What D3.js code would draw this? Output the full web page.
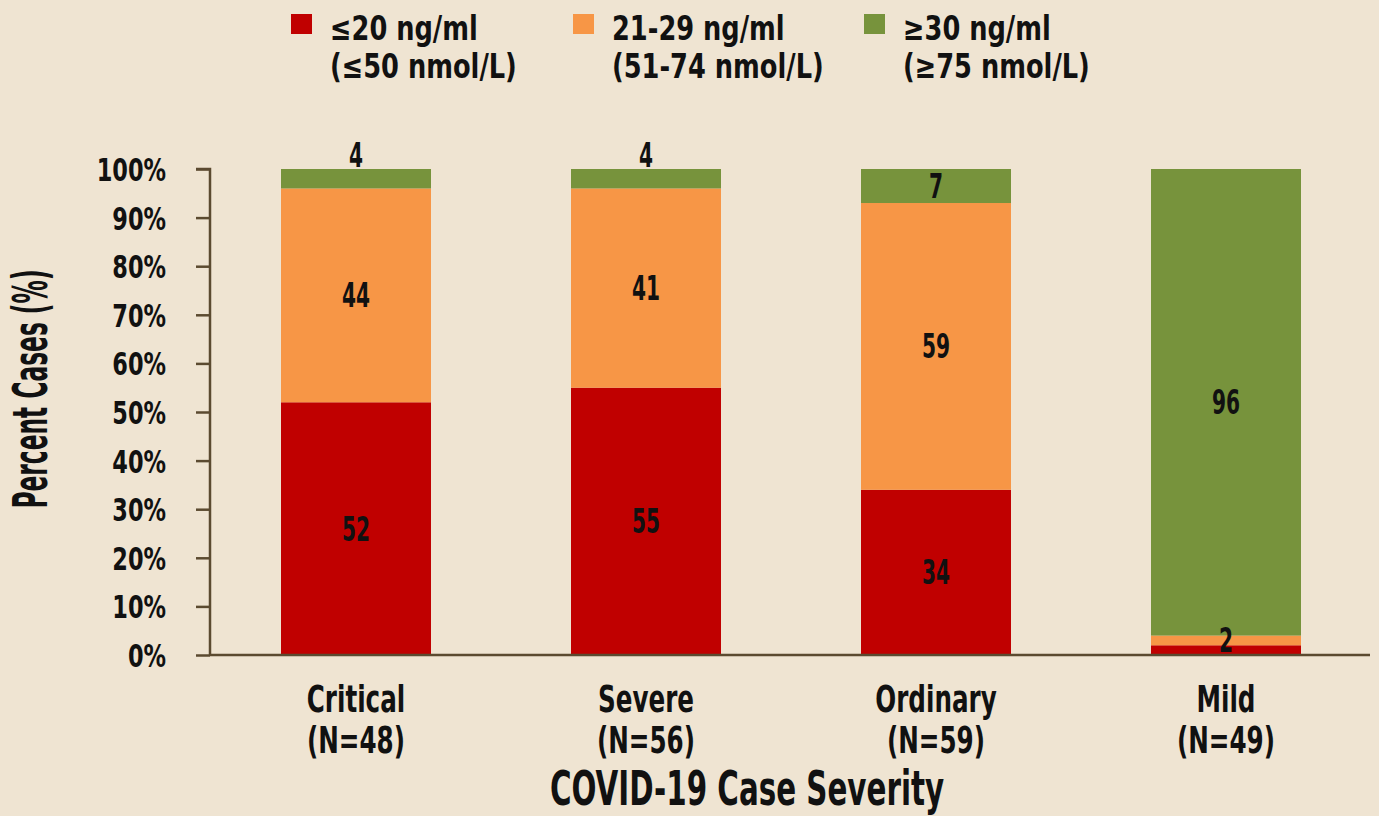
<!DOCTYPE html>
<html><head><meta charset="utf-8">
<script src="https://cdn.jsdelivr.net/npm/d3@7"></script>
<style>
html,body{margin:0;padding:0;background:#EFE4D2;}
svg text{font-family:"DejaVu Sans Condensed","Liberation Sans Narrow",sans-serif;font-weight:bold;fill:#111;}
</style></head>
<body>
<svg id="chart" width="1379" height="816"></svg>
<script>
const categories = ["Critical","Severe","Ordinary","Mild"];
const categoryN = ["(N=48)","(N=56)","(N=59)","(N=49)"];
const seriesNames = ["≤20 ng/ml","21-29 ng/ml","≥30 ng/ml"];
const seriesSub = ["(≤50 nmol/L)","(51-74 nmol/L)","(≥75 nmol/L)"];
const low = [52,55,34,2];
const mid = [44,41,59,2];
const high = [4,4,7,96];
const showLow = [true,true,true,false];
const yTicks = [0,10,20,30,40,50,60,70,80,90,100];
const colors = ["#C00000","#F79646","#77933C"];

(function(){
const svg = d3.select("#chart");
const W=1379,H=816;
svg.append("rect").attr("width",W).attr("height",H).attr("fill","#EFE4D2");
const pL=210, pR=1370, pT=169, pB=655;
const x = d3.scaleBand().domain(categories).range([211,1371]).paddingInner(140/290).paddingOuter(70/290);
const y = d3.scaleLinear().domain([0,100]).range([pB,pT]);

function txt(parent, tx, ty, str, size, sx, anchor, rot){
  return parent.append("text")
    .attr("transform",`translate(${tx},${ty})${rot?` rotate(${rot})`:""} scale(${sx},1)`)
    .attr("text-anchor",anchor||"start").attr("font-size",size).text(str);
}

const rows = categories.map((c,i)=>({cat:c,s0:low[i],s1:mid[i],s2:high[i]}));
const stack = d3.stack().keys(["s0","s1","s2"])(rows);

const g = svg.append("g");
stack.forEach((layer,li)=>{
  g.selectAll(null).data(layer).enter().append("rect")
    .attr("x",d=>x(d.data.cat)).attr("width",x.bandwidth())
    .attr("y",d=>y(d[1])).attr("height",d=>y(d[0])-y(d[1]))
    .attr("fill",colors[li]);
});
stack.forEach((layer,li)=>{
  layer.forEach((d,i)=>{
    const v = d[1]-d[0];
    if(li===0 && !showLow[i]) return;
    let yy = (y(d[0])+y(d[1]))/2;
    if(v<5 && li===2) yy = y(d[1]) - 14;
    txt(g, x(d.data.cat)+x.bandwidth()/2, yy+12, v, 33, 0.68, "middle");
  });
});

const axisColor="#5B4A30";
const yAxis = svg.append("g").attr("transform",`translate(${pL},0)`)
  .call(d3.axisLeft(y).tickValues(yTicks).tickFormat(d=>d+"%").tickSize(14).tickPadding(44));
yAxis.attr("font-family",null).attr("font-size",null);
yAxis.select(".domain").attr("stroke",axisColor).attr("stroke-width",2.5).attr("d",`M-14,${pT}H0V${pB}`);
yAxis.selectAll(".tick line").attr("stroke",axisColor).attr("stroke-width",2.5);
yAxis.selectAll(".tick text").attr("font-size",32).attr("fill","#111")
  .attr("x",-44/0.78).attr("dy","0.36em").attr("transform","scale(0.78,1)");
svg.append("line").attr("x1",pL).attr("x2",pR).attr("y1",pB).attr("y2",pB)
  .attr("stroke",axisColor).attr("stroke-width",2.5);

categories.forEach((c,i)=>{
  const cx = x(c)+x.bandwidth()/2;
  txt(svg, cx, 712, c, 38, 0.72, "middle");
  txt(svg, cx, 753, categoryN[i], 38, 0.72, "middle");
});
txt(svg, 747, 805, "COVID-19 Case Severity", 48, 0.68, "middle");
txt(svg, 47, 389, "Percent Cases (%)", 48, 0.54, "middle", -90);

const legX=[291,573,864];
seriesNames.forEach((s,i)=>{
  svg.append("rect").attr("x",legX[i]).attr("y",14).attr("width",21).attr("height",20).attr("fill",colors[i]);
  txt(svg, legX[i]+39, 40, s, 34, 0.84);
  txt(svg, legX[i]+39, 78, seriesSub[i], 34, 0.84);
});
})();
</script>
</body></html>
